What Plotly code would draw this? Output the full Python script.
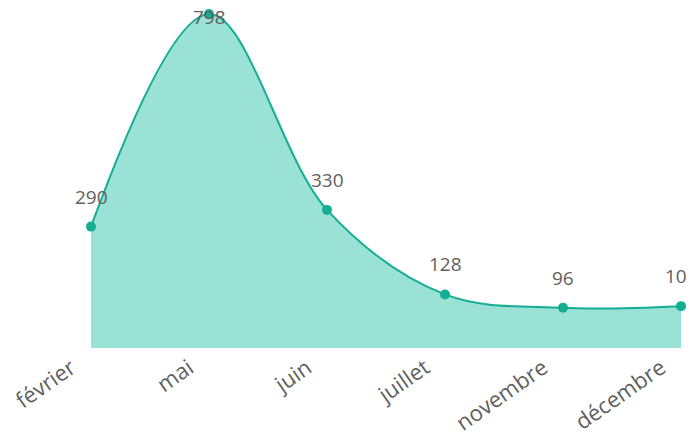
import plotly.graph_objects as go

# ── Data ──────────────────────────────────────────────────────────────────────
MONTHS = ["février", "mai", "juin", "juillet", "novembre", "décembre"]
VALUES = [290, 798, 330, 128, 96, 100]

# ── Style ─────────────────────────────────────────────────────────────────────
LINE = "#14AE95"
FILL = "#9AE1D6"
TEXT = "#5F5F5F"
FONT = "Open Sans, Noto Sans, sans-serif"

# page body adds an 8px offset, so the figure is sized/margined to compensate
W, H = 694, 440
MARGIN = dict(l=83, r=21, t=6, b=100)
Y_MAX = 798

fig = go.Figure(go.Scatter(
    x=MONTHS, y=VALUES,
    mode="lines+markers",
    line=dict(color=LINE, width=2, shape="spline", smoothing=1),
    marker=dict(color=LINE, size=10),
    fill="tozeroy",
    fillcolor=FILL,
    hoverinfo="x+y",
    cliponaxis=False,
))

# value labels above points, kept inside the top of the plot
plot_h = H - MARGIN["t"] - MARGIN["b"]
for m, v in zip(MONTHS, VALUES):
    px = plot_h * (1 - v / Y_MAX)          # px below plot top
    label_px = max(px - 30, 3)
    fig.add_annotation(
        x=m, y=v, text=str(v), showarrow=False,
        yshift=px - label_px,
        font=dict(family=FONT, size=19, color=TEXT),
    )

fig.update_layout(
    width=W, height=H,
    margin=MARGIN,
    plot_bgcolor="white",
    paper_bgcolor="white",
    showlegend=False,
    xaxis=dict(
        range=[0, len(MONTHS) - 1],
        automargin=False,
        showgrid=False, zeroline=False, showline=False,
        tickangle=-35,
        ticklabelshift=-20,
        ticklabelstandoff=2,
        tickfont=dict(family=FONT, size=22, color=TEXT),
        ticks="",
    ),
    yaxis=dict(
        range=[0, Y_MAX],
        visible=False,
        automargin=False,
    ),
)

fig.write_html("out.html")
